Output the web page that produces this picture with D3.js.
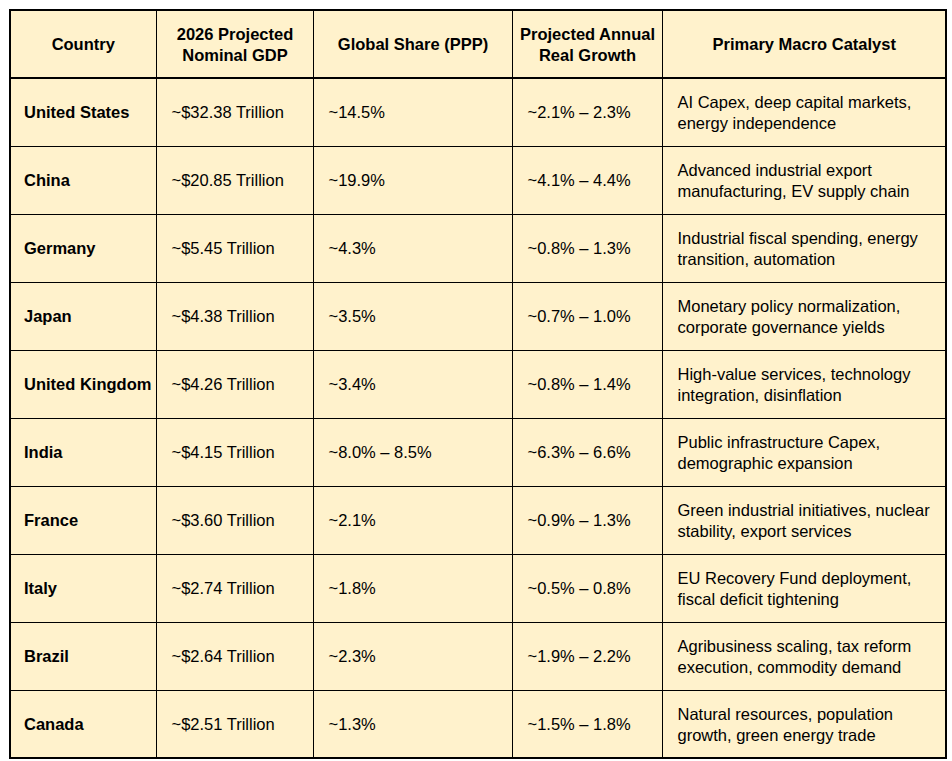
<!DOCTYPE html>
<html>
<head>
<meta charset="utf-8">
<script src="https://cdn.jsdelivr.net/npm/d3@7"></script>
<style>
  body { margin: 0; background: #fff; }
  svg text { font-family: "Liberation Sans", Arial, sans-serif; font-size: 16.5px; fill: #000; }
</style>
</head>
<body>
<svg></svg>
<script>
const headers = [
  ["Country"],
  ["2026 Projected", "Nominal GDP"],
  ["Global Share (PPP)"],
  ["Projected Annual", "Real Growth"],
  ["Primary Macro Catalyst"]
]
const countries = ["United States", "China", "Germany", "Japan", "United Kingdom",
  "India", "France", "Italy", "Brazil", "Canada"]
const gdp = ["~$32.38 Trillion", "~$20.85 Trillion", "~$5.45 Trillion", "~$4.38 Trillion",
  "~$4.26 Trillion", "~$4.15 Trillion", "~$3.60 Trillion", "~$2.74 Trillion",
  "~$2.64 Trillion", "~$2.51 Trillion"]
const share = ["~14.5%", "~19.9%", "~4.3%", "~3.5%", "~3.4%", "~8.0% – 8.5%",
  "~2.1%", "~1.8%", "~2.3%", "~1.3%"]
const growth = ["~2.1% – 2.3%", "~4.1% – 4.4%", "~0.8% – 1.3%", "~0.7% – 1.0%",
  "~0.8% – 1.4%", "~6.3% – 6.6%", "~0.9% – 1.3%", "~0.5% – 0.8%",
  "~1.9% – 2.2%", "~1.5% – 1.8%"]
const catalyst = [
  ["AI Capex, deep capital markets,", "energy independence"],
  ["Advanced industrial export", "manufacturing, EV supply chain"],
  ["Industrial fiscal spending, energy", "transition, automation"],
  ["Monetary policy normalization,", "corporate governance yields"],
  ["High-value services, technology", "integration, disinflation"],
  ["Public infrastructure Capex,", "demographic expansion"],
  ["Green industrial initiatives, nuclear", "stability, export services"],
  ["EU Recovery Fund deployment,", "fiscal deficit tightening"],
  ["Agribusiness scaling, tax reform", "execution, commodity demand"],
  ["Natural resources, population", "growth, green energy trade"]
]

const colEdges = [10, 156.5, 313.5, 512.5, 662.5, 946]
const lineH = 21

const svg = d3.select("svg")
  .attr("width", 952)
  .attr("height", 761)

const rowScale = d3.scaleBand()
  .domain(["header", ...countries])
  .range([10, 758])

const rows = countries.map((c, i) => [[c], [gdp[i]], [share[i]], [growth[i]], catalyst[i]])

svg.append("rect")
  .attr("x", colEdges[0])
  .attr("y", rowScale.range()[0])
  .attr("width", colEdges[5] - colEdges[0])
  .attr("height", rowScale.range()[1] - rowScale.range()[0])
  .attr("fill", "#fff2cc")

// grid lines
const grid = svg.append("g").attr("stroke", "#000")

grid.selectAll("line.v")
  .data(colEdges.slice(1, -1))
  .enter()
  .append("line")
  .attr("x1", d => d).attr("x2", d => d)
  .attr("y1", rowScale.range()[0]).attr("y2", rowScale.range()[1])
  .attr("stroke-width", 1)

grid.selectAll("line.h")
  .data(countries.slice(1))
  .enter()
  .append("line")
  .attr("x1", colEdges[0]).attr("x2", colEdges[5])
  .attr("y1", d => rowScale(d) + 0.5).attr("y2", d => rowScale(d) + 0.5)
  .attr("stroke-width", 1)

grid.append("line")
  .attr("x1", colEdges[0]).attr("x2", colEdges[5])
  .attr("y1", rowScale(countries[0])).attr("y2", rowScale(countries[0]))
  .attr("stroke-width", 2)

grid.append("rect")
  .attr("x", colEdges[0])
  .attr("y", rowScale.range()[0])
  .attr("width", colEdges[5] - colEdges[0])
  .attr("height", rowScale.range()[1] - rowScale.range()[0])
  .attr("fill", "none")
  .attr("stroke-width", 2)

const cellText = (g, lines, cx, cy, anchor, weight) => {
  const top = cy - (lines.length - 1) * lineH / 2
  g.append("text")
    .attr("text-anchor", anchor)
    .attr("font-weight", weight)
    .selectAll("tspan")
    .data(lines)
    .enter()
    .append("tspan")
    .attr("x", cx)
    .attr("y", (d, i) => top + i * lineH + 6)
    .text(d => d)
}

const header = svg.append("g").attr("class", "header")
headers.forEach((lines, j) => {
  const cx = (colEdges[j] + colEdges[j + 1]) / 2
  const cy = rowScale("header") + rowScale.bandwidth() / 2
  cellText(header, lines, cx, cy, "middle", "bold")
})

const body = svg.append("g").attr("class", "body")
rows.forEach((cells, i) => {
  const cy = rowScale(countries[i]) + rowScale.bandwidth() / 2
  cells.forEach((lines, j) => {
    const pad = j === 0 ? 14 : 15
    cellText(body, lines, colEdges[j] + pad, cy, "start", j === 0 ? "bold" : "normal")
  })
})
</script>
</body>
</html>
